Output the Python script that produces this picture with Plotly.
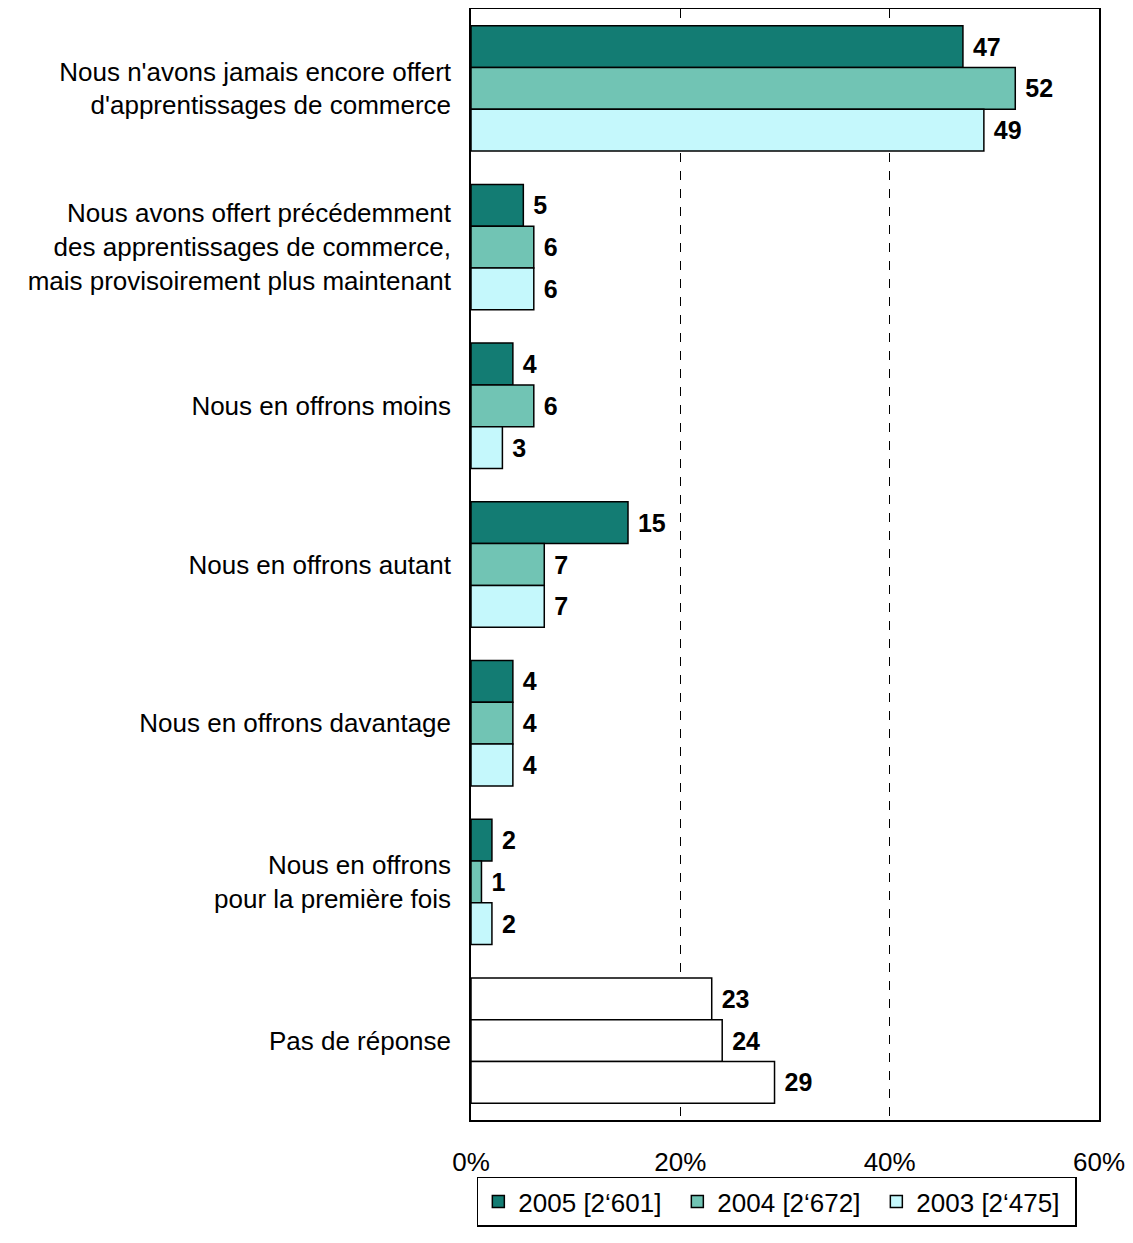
import plotly.graph_objects as go

categories = [
    "Nous n'avons jamais encore offert<br>d'apprentissages de commerce",
    "Nous avons offert précédemment<br>des apprentissages de commerce,<br>mais provisoirement plus maintenant",
    "Nous en offrons moins",
    "Nous en offrons autant",
    "Nous en offrons davantage",
    "Nous en offrons<br>pour la première fois",
    "Pas de réponse",
]
neutral_categories = ["Pas de réponse"]

series_names = ["2005 [2‘601]", "2004 [2‘672]", "2003 [2‘475]"]
values_2005 = [47, 5, 4, 15, 4, 2, 23]
values_2004 = [52, 6, 6, 7, 4, 1, 24]
values_2003 = [49, 6, 3, 7, 4, 2, 29]

x_ticks = [0, 20, 40, 60]
x_tick_labels = ["0%", "20%", "40%", "60%"]

series_colors = ["#137C73", "#71C4B4", "#C5F8FC"]
FONT = "Arial, 'Liberation Sans', sans-serif"

fig = go.Figure()
for name, vals, col in zip(series_names, [values_2005, values_2004, values_2003], series_colors):
    colors = ["#FFFFFF" if c in neutral_categories else col for c in categories]
    fig.add_trace(go.Bar(
        name=name,
        y=categories,
        x=vals,
        orientation="h",
        marker=dict(color=colors, line=dict(color="black", width=1.5)),
        text=vals,
        texttemplate="\u00a0%{x}",
        textposition="outside",
        textfont=dict(family=FONT, size=25, color="black", weight="bold"),
        cliponaxis=False,
    ))

# page body has an 8px margin, so the figure is sized/offset accordingly
fig.update_layout(
    width=1125,
    height=1235,
    margin=dict(l=463, r=34, t=1, b=123, autoexpand=False),
    paper_bgcolor="white",
    plot_bgcolor="white",
    barmode="group",
    bargap=0.21,
    bargroupgap=0,
    font=dict(family=FONT, size=26, color="black"),
    showlegend=True,
    legend=dict(
        orientation="h",
        x=0.487, xanchor="center",
        y=-0.051, yanchor="top",
        bordercolor="black", borderwidth=1.5,
        font=dict(family=FONT, size=26, color="black"),
        entrywidth=154,
        traceorder="normal",
    ),
)

fig.update_xaxes(
    range=[0, 60],
    tickvals=x_ticks,
    ticktext=x_tick_labels,
    showgrid=True,
    gridcolor="black",
    griddash="dash",
    gridwidth=1,
    zeroline=False,
    showline=True,
    linecolor="black",
    linewidth=1.5,
    mirror=True,
    ticks="",
    ticklabelstandoff=18,
    tickfont=dict(size=26),
)
fig.update_yaxes(
    autorange="reversed",
    showgrid=False,
    showline=True,
    linecolor="black",
    linewidth=1.5,
    mirror=True,
    ticks="",
    ticklabelstandoff=13,
    tickfont=dict(size=26),
)

fig.write_html("out.html")
